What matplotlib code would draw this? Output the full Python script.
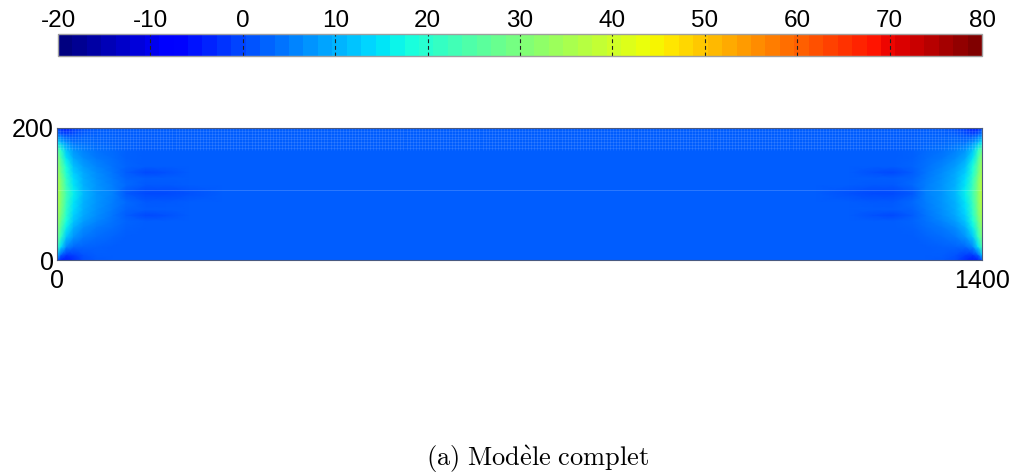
import numpy as np
import matplotlib
matplotlib.use("Agg")
import matplotlib.pyplot as plt
from matplotlib.colors import Normalize
from matplotlib import cm
import matplotlib.transforms as mtransforms

plt.rcParams['mathtext.fontset'] = 'cm'

# ---- data -------------------------------------------------------------
vmin, vmax = -20, 80
cb_ticks = [-20, -10, 0, 10, 20, 30, 40, 50, 60, 70, 80]
x_ticks = [0, 1400]
y_ticks = [0, 200]
caption = r"$\mathrm{(a)\ Mod\grave{e}le\ complet}$"

# node positions (left half; right half mirrored about x = 700)
xs_left = [0, 6, 14, 25, 40, 60, 85, 105, 135, 165, 200, 250, 700]
ys = [0, 8, 20, 35, 50, 59, 68, 77, 88, 101, 114, 124, 133, 142, 155, 167, 178, 190, 200]

# field values (rows = ys, cols = xs_left)
vals_left = [
    [ 0, -4, -5, -3,  0,  1.2, 1.6, 1.6, 1.6, 1.6, 1.6, 1.6, 1.6],
    [12,  2, -2, -1,  1,  1.6, 1.8, 1.8, 1.8, 1.8, 1.8, 1.8, 1.8],
    [24, 14,  6,  3,  2.5, 2.2, 1.8, 1.8, 1.8, 1.8, 1.8, 1.8, 1.8],
    [30, 21, 12,  7,  4.5, 3.2, 2.5, 1.8, 1.8, 1.8, 1.8, 1.8, 1.8],
    [33, 25, 16, 10,  6.5, 4.5, 3.2, 2.2, 1.8, 1.8, 1.8, 1.8, 1.8],
    [35, 27, 18, 12,  8,  5.5, 3.8, 2.4, 1.5, 1.8, 1.8, 1.8, 1.8],
    [36, 29, 20, 13,  9,  6.2, 4.2, 1.5, -0.3, 0.6, 1.8, 1.8, 1.8],
    [37, 30, 21, 14,  9.5, 6.6, 4.5, 2.6, 1.5, 1.8, 1.8, 1.8, 1.8],
    [38, 31, 22, 15, 10,  7,  4.8, 2.8, 1.4, 1.3, 1.7, 1.8, 1.8],
    [38, 31, 23, 16, 10.5, 7.2, 5, 1.2, -0.3, -0.3, 0.6, 1.8, 1.8],
    [38, 31, 22, 15, 10,  7,  4.8, 2.8, 1.4, 1.3, 1.7, 1.8, 1.8],
    [37, 30, 21, 14,  9.5, 6.6, 4.5, 2.6, 1.5, 1.8, 1.8, 1.8, 1.8],
    [36, 28, 19, 12.5, 9, 6.2, 4.2, 1.5, -0.3, 0.6, 1.8, 1.8, 1.8],
    [35, 27, 18, 11.5, 8, 5.5, 3.8, 2.4, 1.5, 1.8, 1.8, 1.8, 1.8],
    [33, 24, 15,  9,  6.5, 4.5, 3.2, 2.2, 1.8, 1.8, 1.8, 1.8, 1.8],
    [28, 20, 12,  7,  5,  3.8, 3,  2.2, 1.8, 1.8, 1.8, 1.8, 1.8],
    [16, 11,  7,  4,  3.5, 3, 2.5, 2, 1.8, 1.8, 1.8, 1.8, 1.8],
    [ 6,  2,  0,  1,  2,  2.2, 2, 1.8, 1.8, 1.8, 1.8, 1.8, 1.8],
    [ 0, -4, -5, -2,  0.5, 1.5, 1.6, 1.6, 1.6, 1.6, 1.6, 1.6, 1.6],
]

# ---- build full field by mirroring -----------------------------------
xs_left_a = np.array(xs_left, dtype=float)
xs = np.concatenate([xs_left_a, (1400 - xs_left_a[:-1])[::-1]])
V_left = np.array(vals_left, dtype=float)
V = np.hstack([V_left, V_left[:, :-1][:, ::-1]])
X, Y = np.meshgrid(xs, np.array(ys, dtype=float))

# ---- figure -----------------------------------------------------------
W, H = 1015, 476
fig = plt.figure(figsize=(W / 100, H / 100), dpi=100)
fig.patch.set_facecolor('white')

field_font = dict(family='Liberation Sans', size=18)
cb_font = dict(family='Liberation Sans', size=17.5)

# field axes
ax = fig.add_axes([57 / W, 1 - 260 / H, 925 / W, 132 / H])
ax.pcolormesh(X, Y, V, cmap='jet', vmin=vmin, vmax=vmax, shading='gouraud',
              rasterized=True)
# fine finite-element mesh of the upper band (drawn faintly, as in the original)
band_lo, band_hi = 167, 200
ax.vlines(np.arange(0, 1400, 4.6), band_lo, band_hi, colors='white',
          linewidth=0.4, alpha=0.18)
ax.hlines(np.arange(band_lo + 3, band_hi, 4.2), 0, 1400, colors='white',
          linewidth=0.4, alpha=0.18)
ax.hlines([106], 0, 1400, colors='white', linewidth=0.6, alpha=0.2)
ax.set_xlim(0, 1400)
ax.set_ylim(0, 200)
ax.set_xticks(x_ticks)
ax.set_yticks(y_ticks)
ax.set_xticklabels([str(t) for t in x_ticks], fontdict=field_font)
ax.set_yticklabels([str(t) for t in y_ticks], fontdict=field_font)
ax.tick_params(axis='x', length=0, pad=6.5)
ax.tick_params(axis='y', length=0, pad=2.5)
for s in ax.spines.values():
    s.set_linewidth(0.8)
    s.set_color('#4a5a80')

# colorbar axes
cax = fig.add_axes([58 / W, 1 - 56 / H, 924 / W, 22 / H])
cmap64 = plt.get_cmap('jet', 64)
sm = cm.ScalarMappable(norm=Normalize(vmin, vmax), cmap=cmap64)
cb = fig.colorbar(sm, cax=cax, orientation='horizontal')
cb.outline.set_edgecolor('#a0a0a0')
cb.outline.set_linewidth(1.0)
cax.xaxis.set_ticks_position('top')
cax.set_xticks(cb_ticks)
cax.set_xticklabels([str(t) for t in cb_ticks], fontdict=cb_font)
cax.tick_params(length=0, pad=1.2)
trans = mtransforms.blended_transform_factory(cax.transData, cax.transAxes)
cax.vlines(cb_ticks[1:-1], 0, 1, transform=trans, colors='#202020',
           linewidth=0.8, linestyles=(0, (3.5, 2.5)))

fig.text(538 / W, 1 - 459 / H, caption, ha='center', va='center', fontsize=19)

fig.savefig('out.png', dpi=100, facecolor='white')
